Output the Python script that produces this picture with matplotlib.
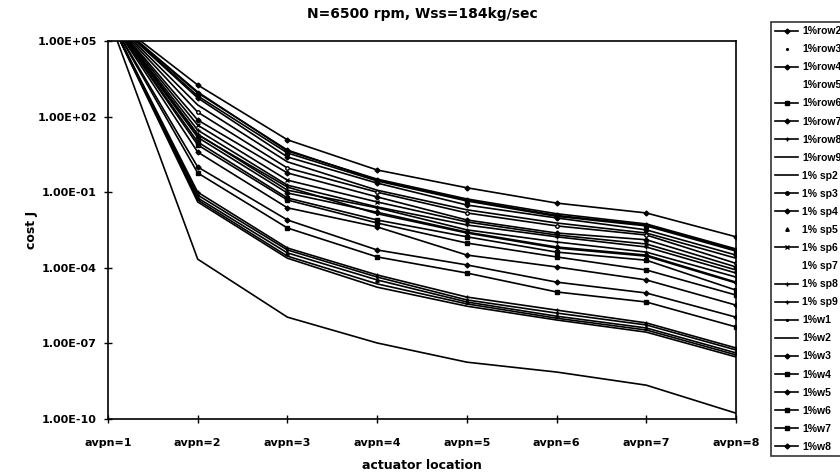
import numpy as np
import matplotlib
matplotlib.use("Agg")
import matplotlib.pyplot as plt
from matplotlib.lines import Line2D

plt.rcParams['font.family'] = ['DejaVu Sans']

# categories on the x axis
locations = ['avpn=1', 'avpn=2', 'avpn=3', 'avpn=4', 'avpn=5', 'avpn=6', 'avpn=7', 'avpn=8']

# series labels, as in the legend
row_labels = ['1%row2', '1%row3', '1%row4', '1%row5', '1%row6', '1%row7', '1%row8', '1%row9']
sp_labels = ['1% sp2', '1% sp3', '1% sp4', '1% sp5', '1% sp6', '1% sp7', '1% sp8', '1% sp9']
w_labels = ['1%w1', '1%w2', '1%w3', '1%w4', '1%w5', '1%w6', '1%w7', '1%w8']

# cost J (first point is above the top of the axis, clipped)
row_cost = [
    [1e6, 1.8e3, 12, 0.76, 0.15, 0.037, 0.015, 1.7e-3],
    [1e6, 0.077, 5.1e-4, 4.3e-5, 5.3e-6, 1.6e-6, 5.4e-7, 5.5e-8],
    [1e6, 8.7e2, 4.7, 0.30, 0.049, 0.012, 5.0e-3, 5.1e-4],
    [1e6, 9.5e2, 4.3, 0.33, 0.054, 0.014, 5.5e-3, 5.6e-4],
    [1e6, 6.6e2, 3.6, 0.28, 0.045, 0.011, 4.6e-3, 4.6e-4],
    [1e6, 5.5e2, 2.5, 0.23, 0.031, 9.5e-3, 3.2e-3, 3.2e-4],
    [1e6, 0.10, 6.1e-4, 5.2e-5, 6.9e-6, 2.1e-6, 6.5e-7, 6.6e-8],
    [1e6, 2.2e-4, 1.1e-6, 1.04e-7, 1.8e-8, 7.3e-9, 2.2e-9, 1.7e-10],
]
sp_cost = [
    [1e6, 2.9e2, 1.6, 0.12, 0.020, 6.0e-3, 2.4e-3, 2.4e-4],
    [1e6, 1.5e2, 0.91, 0.10, 0.015, 4.6e-3, 2.0e-3, 1.5e-4],
    [1e6, 73, 0.58, 0.065, 7.9e-3, 2.4e-3, 1.3e-3, 1.08e-4],
    [1e6, 0.059, 3.9e-4, 3.3e-5, 4.4e-6, 1.2e-6, 4.1e-7, 4.2e-8],
    [1e6, 46, 0.30, 0.041, 6.6e-3, 2.0e-3, 8.8e-4, 8.2e-5],
    [1e6, 0.049, 2.9e-4, 2.3e-5, 3.7e-6, 1.0e-6, 3.4e-7, 3.5e-8],
    [1e6, 29, 0.19, 0.026, 5.0e-3, 1.7e-3, 6.7e-4, 6.2e-5],
    [1e6, 20, 0.12, 0.024, 3.2e-3, 1.06e-3, 4.2e-4, 4.3e-5],
]
w_cost = [
    [1e6, 19, 0.16, 0.014, 2.4e-3, 6.1e-4, 2.9e-4, 2.5e-5],
    [1e6, 0.041, 2.4e-4, 1.7e-5, 3.0e-6, 8.5e-7, 2.8e-7, 2.9e-8],
    [1e6, 15, 0.093, 0.016, 2.6e-3, 6.7e-4, 3.2e-4, 2.7e-5],
    [1e6, 9.8, 0.059, 7.9e-3, 1.7e-3, 4.2e-4, 2.0e-4, 1.3e-5],
    [1e6, 1.0, 7.9e-3, 5.1e-4, 1.3e-4, 2.7e-5, 1.0e-5, 1.1e-6],
    [1e6, 7.5, 0.049, 6.0e-3, 9.6e-4, 2.7e-4, 8.2e-5, 8.3e-6],
    [1e6, 0.58, 3.8e-3, 2.7e-4, 6.2e-5, 1.1e-5, 4.4e-6, 4.5e-7],
    [1e6, 3.9, 0.024, 4.2e-3, 3.2e-4, 1.08e-4, 3.3e-5, 3.3e-6],
]

ytick_vals = [1e5, 1e2, 1e-1, 1e-4, 1e-7, 1e-10]
ytick_text = ['1.00E+05', '1.00E+02', '1.00E-01', '1.00E-04', '1.00E-07', '1.00E-10']

labels = row_labels + sp_labels + w_labels
costs = row_cost + sp_cost + w_cost

# legend sample styles (marker, linestyle) - scan is black & white
styles = [
    ('D', '-'), ('.', 'none'), ('D', '-'), ('', 'none'), ('s', '-'), ('D', '-'),
    ('+', '-'), ('', '-'), ('', '-'), ('o', '-'), ('D', '-'), ('^', 'none'),
    ('x', '-'), ('', 'none'), ('+', '-'), ('+', '-'), ('.', '-'), ('', '-'),
    ('D', '-'), ('s', '-'), ('D', '-'), ('s', '-'), ('s', '-'), ('D', '-'),
]

fig = plt.figure(figsize=(8.4, 4.76), dpi=100)
ax = fig.add_axes([108 / 840, 1 - 419 / 476, 628 / 840, 378 / 476])

x = np.arange(len(locations))
for lab, c, (m, ls) in zip(labels, costs, styles):
    ax.plot(x, c, color='black', lw=1.2, marker=m if m else None, ms=2.5,
            markerfacecolor='white' if m == 'o' else 'black', zorder=2)

ax.set_yscale('log')
ax.set_ylim(1e-10, 1e5)
ax.set_xlim(0, 7)
ax.set_yticks(ytick_vals)
ax.set_yticklabels(ytick_text)
ax.yaxis.set_minor_locator(matplotlib.ticker.NullLocator())
ax.set_xticks(x)
ax.set_xticklabels(locations)
ax.tick_params(direction='inout', length=6, width=1, labelsize=8, colors='black')
ax.tick_params(axis='x', pad=11)
ax.tick_params(axis='y', pad=5)
for t in ax.get_xticklabels() + ax.get_yticklabels():
    t.set_fontweight('bold')
for s in ax.spines.values():
    s.set_linewidth(1.2)

fig.text(422 / 840, 1 - 14 / 476, 'N=6500 rpm, Wss=184kg/sec', fontsize=10,
         fontweight='bold', ha='center', va='center')
ax.set_xlabel('actuator location', fontsize=9, fontweight='bold')
ax.xaxis.set_label_coords(0.5, -0.105)
ax.set_ylabel('cost J', fontsize=9, fontweight='bold')
ax.yaxis.set_label_coords(-0.111, 0.5)

handles = [Line2D([], [], color='black', lw=1.2, marker=m if m else None,
                  linestyle=ls, ms=2.5) for m, ls in styles]
leg = fig.legend(handles, labels, loc='upper left', bbox_to_anchor=(771 / 840, 1 - 22 / 476),
                 prop={'family': 'Liberation Sans', 'weight': 'bold', 'size': 7.5},
                 frameon=True, fancybox=False, edgecolor='black',
                 labelspacing=0.775, handlelength=2.2, handletextpad=0.4, borderpad=0.4,
                 borderaxespad=0)
leg.get_frame().set_linewidth(1.2)

fig.savefig('out.png', dpi=100)
